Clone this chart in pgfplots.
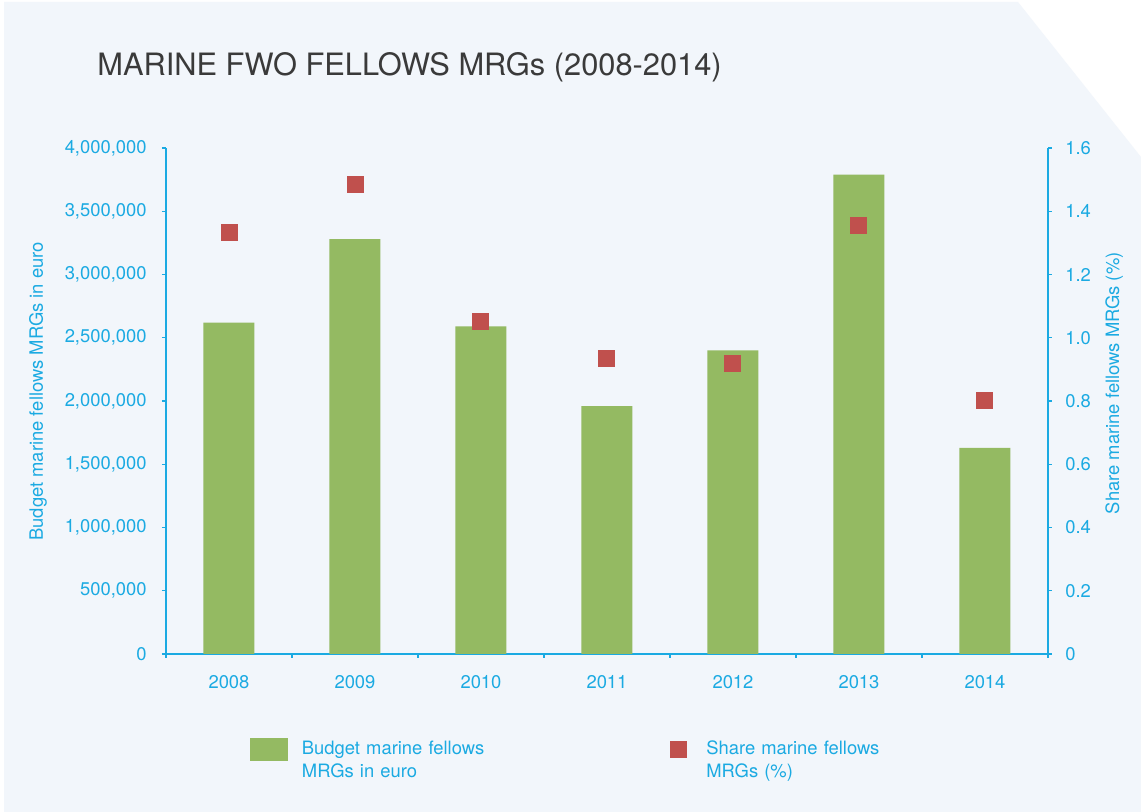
\documentclass[border=0pt]{standalone}
\usepackage{fontspec}
\setmainfont{TeX Gyre Heros}
\usepackage{pgfplots}
\pgfplotsset{compat=1.18}
\definecolor{bg}{HTML}{F2F6FB}
\definecolor{axc}{HTML}{1BAAE2}
\definecolor{barg}{HTML}{94BA62}
\definecolor{sqr}{HTML}{C0504D}
\definecolor{titlec}{HTML}{3A3A3A}
\begin{document}
\begin{tikzpicture}
\useasboundingbox (0,0) rectangle (570.5pt,406pt);
\fill[white] (0,0) rectangle (570.5pt,406pt);
\fill[bg] (2pt,0) -- (2pt,405pt) -- (509pt,405pt) -- (570.5pt,327.5pt) -- (570.5pt,0) -- cycle;
\node[anchor=base west, inner sep=0, text=titlec, font=\fontsize{15.4}{18}\selectfont] at (48.5pt,368pt) {MARINE FWO FELLOWS MRGs (2008-2014)};
\pgfplotsset{
  common/.style={
    at={(83pt,79pt)}, anchor=south west,
    scale only axis, width=441pt, height=253pt,
    xmin=-0.5, xmax=6.5, ymin=0,
    scaled y ticks=false,
    axis line style={draw=axc, line width=0.6pt, -},
    tick style={draw=axc, line width=0.6pt},
    tick align=outside,
    major tick length=2pt, minor tick length=2pt,
    ticklabel style={font=\fontsize{9.2}{11}\selectfont, text=axc},
    label style={font=\fontsize{9.2}{11}\selectfont, text=axc},
    clip=false,
  }
}
\begin{axis}[common,
  axis x line*=bottom, axis y line*=left,
  ymax=4000000,
  ytick={0,500000,1000000,1500000,2000000,2500000,3000000,3500000,4000000},
  yticklabels={0,{500,000},{1,000,000},{1,500,000},{2,000,000},{2,500,000},{3,000,000},{3,500,000},{4,000,000}},
  xtick={0,1,2,3,4,5,6}, xticklabels={2008,2009,2010,2011,2012,2013,2014},
  major x tick style={draw=none},
  minor xtick={-0.5,0.5,1.5,2.5,3.5,4.5,5.5,6.5},
  xticklabel style={inner sep=0pt, anchor=north, yshift=-8.5pt},
  yticklabel style={inner sep=0pt, anchor=east, xshift=-7.5pt},
  ylabel={Budget marine fellows MRGs in euro},
  ylabel style={at={(axis description cs:-0.145,0.519)}, anchor=center},
  legend columns=2,
  legend style={at={(axis description cs:0.0952,-0.166)}, anchor=north west,
    draw=none, fill=none, inner sep=0pt, outer sep=0pt,
    nodes={inner sep=0pt, text width=150pt, align=left, text=axc, font=\fontsize{9.2}{11.5}\selectfont},
    /tikz/column 1/.style={column sep=7pt},
    /tikz/column 2/.style={column sep=33.8pt},
    /tikz/column 3/.style={column sep=10pt}},
]
\addplot[ybar, bar width=25.5pt, bar shift=0pt, fill=barg, draw=none,
  legend image code/.code={\fill[barg] (0pt,-5.75pt) rectangle (19pt,5.75pt);}]
  coordinates {(0,2620000) (1,3280000) (2,2590000) (3,1960000) (4,2400000) (5,3790000) (6,1630000)};
\addlegendentry{Budget marine fellows\\MRGs in euro}
\addlegendimage{legend image code/.code={\fill[sqr] (0pt,-4pt) rectangle (8pt,4pt);}}
\addlegendentry{Share marine fellows\\MRGs (\%)}
\end{axis}
\begin{axis}[common,
  axis x line=none, axis y line*=right,
  ymax=1.6,
  ytick={0,0.2,0.4,0.6,0.8,1.0,1.2,1.4,1.6},
  yticklabels={0,0.2,0.4,0.6,0.8,1.0,1.2,1.4,1.6},
  yticklabel style={inner sep=0pt, anchor=west, xshift=6.5pt},
  ylabel={Share marine fellows MRGs (\%)},
  ylabel style={at={(axis description cs:1.075,0.535)}, anchor=center},
]
\addplot[sqr, only marks, mark=square*, mark size=4pt, mark options={fill=sqr, draw=sqr, line width=0pt}]
  coordinates {(0,1.333) (1,1.486) (2,1.052) (3,0.935) (4,0.919) (5,1.356) (6,0.802)};
\end{axis}
\end{tikzpicture}
\end{document}
